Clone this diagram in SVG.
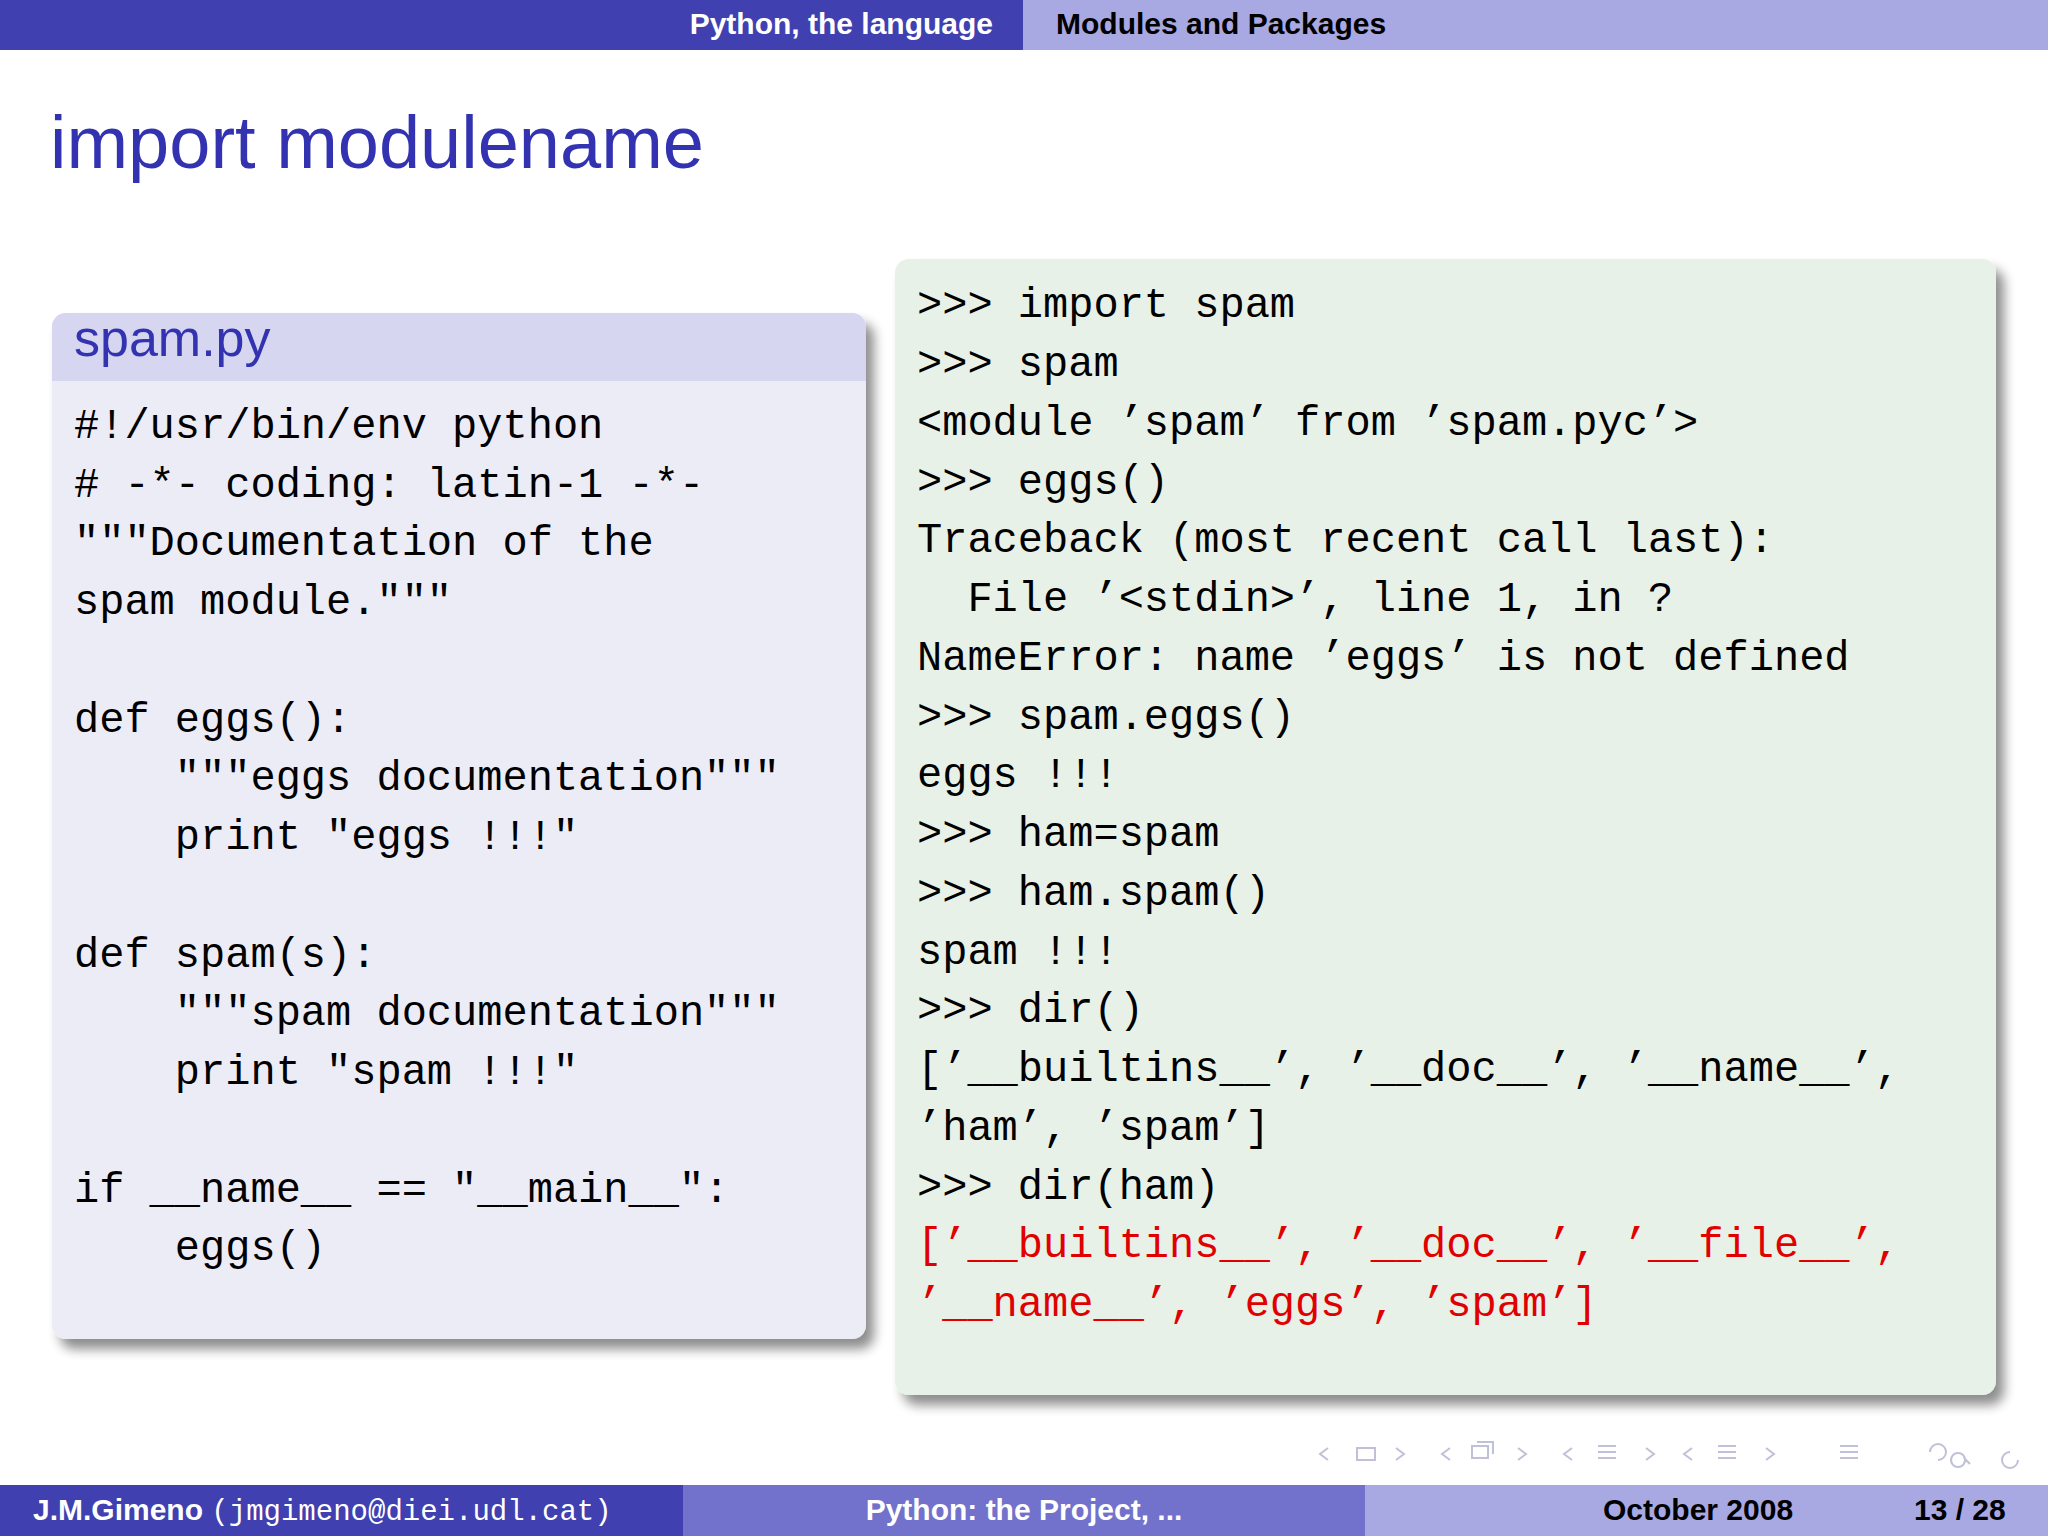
<svg xmlns="http://www.w3.org/2000/svg" width="2048" height="1536" viewBox="0 0 2048 1536">
<defs>
<filter id="sh" x="-5%" y="-5%" width="115%" height="115%"><feGaussianBlur in="SourceAlpha" stdDeviation="6"/><feOffset dx="8" dy="10"/><feComponentTransfer><feFuncA type="linear" slope="0.45"/></feComponentTransfer><feMerge><feMergeNode/><feMergeNode in="SourceGraphic"/></feMerge></filter>
</defs>
<style>
.hd{font-family:"Liberation Sans",Arial,sans-serif;font-weight:bold;font-size:30px}
.code{font-family:"Liberation Mono","DejaVu Sans Mono",monospace;font-size:42px;fill:#000;white-space:pre}
.red{fill:#e00000}
.ft{font-family:"Liberation Sans",Arial,sans-serif;font-weight:bold;font-size:30px}
.nav{fill:none;stroke:#c0c0d8;stroke-width:2}
</style>
<rect width="2048" height="1536" fill="#fff"/>
<g id="header">
<rect x="0" y="0" width="1023" height="50" fill="#4040b0"/>
<rect x="1023" y="0" width="1025" height="50" fill="#a8a8e2"/>
<text class="hd" x="993" y="34" text-anchor="end" fill="#fff">Python, the language</text>
<text class="hd" x="1056" y="34" fill="#000">Modules and Packages</text>
</g>
<text x="50" y="168" font-family="'Liberation Sans',Arial,sans-serif" font-size="74" fill="#3333b2">import modulename</text>
<g id="spam-box" filter="url(#sh)">
<rect x="52" y="313" width="814" height="1026" rx="14" fill="#ececf7"/>
<path d="M52 381 V327 a14 14 0 0 1 14 -14 H852 a14 14 0 0 1 14 14 V381 Z" fill="#d6d6f0"/>
</g>
<text x="74" y="356" font-family="'Liberation Sans',Arial,sans-serif" font-size="52" fill="#3333b2">spam.py</text>
<g id="spam-code" class="code">
<text class="code" x="74" y="438">#!/usr/bin/env python</text>
<text class="code" x="74" y="497"># -*- coding: latin-1 -*-</text>
<text class="code" x="74" y="555">"""Documentation of the</text>
<text class="code" x="74" y="614">spam module."""</text>
<text class="code" x="74" y="732">def eggs():</text>
<text class="code" x="74" y="790">    """eggs documentation"""</text>
<text class="code" x="74" y="849">    print "eggs !!!"</text>
<text class="code" x="74" y="967">def spam(s):</text>
<text class="code" x="74" y="1025">    """spam documentation"""</text>
<text class="code" x="74" y="1084">    print "spam !!!"</text>
<text class="code" x="74" y="1202">if __name__ == "__main__":</text>
<text class="code" x="74" y="1260">    eggs()</text>
</g>
<g id="session-box" filter="url(#sh)">
<rect x="895" y="259" width="1101" height="1136" rx="14" fill="#e8f1e8"/>
</g>
<g id="session-code">
<text class="code" x="917" y="317">&gt;&gt;&gt; import spam</text>
<text class="code" x="917" y="376">&gt;&gt;&gt; spam</text>
<text class="code" x="917" y="435">&lt;module ’spam’ from ’spam.pyc’&gt;</text>
<text class="code" x="917" y="494">&gt;&gt;&gt; eggs()</text>
<text class="code" x="917" y="552">Traceback (most recent call last):</text>
<text class="code" x="917" y="611">  File ’&lt;stdin&gt;’, line 1, in ?</text>
<text class="code" x="917" y="670">NameError: name ’eggs’ is not defined</text>
<text class="code" x="917" y="729">&gt;&gt;&gt; spam.eggs()</text>
<text class="code" x="917" y="787">eggs !!!</text>
<text class="code" x="917" y="846">&gt;&gt;&gt; ham=spam</text>
<text class="code" x="917" y="905">&gt;&gt;&gt; ham.spam()</text>
<text class="code" x="917" y="964">spam !!!</text>
<text class="code" x="917" y="1022">&gt;&gt;&gt; dir()</text>
<text class="code" x="917" y="1081">[’__builtins__’, ’__doc__’, ’__name__’,</text>
<text class="code" x="917" y="1140">’ham’, ’spam’]</text>
<text class="code" x="917" y="1199">&gt;&gt;&gt; dir(ham)</text>
<text class="code red" x="917" y="1257">[’__builtins__’, ’__doc__’, ’__file__’,</text>
<text class="code red" x="917" y="1316">’__name__’, ’eggs’, ’spam’]</text>
</g>
<g id="nav">
<path class="nav" d="M1328 1448 l-8 6 l8 6 M1357 1448 h18 v12 h-18 z M1396 1448 l8 6 l-8 6"/>
<path class="nav" d="M1450 1448 l-8 6 l8 6 M1472 1446 h16 v12 h-16 z M1477 1442 h16 v12 M1518 1448 l8 6 l-8 6"/>
<path class="nav" d="M1572 1448 l-8 6 l8 6 M1598 1446 h18 M1598 1452 h18 M1598 1458 h18 M1646 1448 l8 6 l-8 6"/>
<path class="nav" d="M1692 1448 l-8 6 l8 6 M1718 1446 h18 M1718 1452 h18 M1718 1458 h18 M1766 1448 l8 6 l-8 6"/>
<path class="nav" d="M1840 1446 h18 M1840 1452 h18 M1840 1458 h18"/>
<path class="nav" d="M1930 1452 a8 8 0 1 1 8 8 M1958 1453 a7 7 0 1 0 0.1 0 M1964 1458 l6 6 M2010 1452 a8 8 0 1 0 8 8"/>
</g>
<g id="footer">
<rect x="0" y="1485" width="683" height="51" fill="#4040b0"/>
<rect x="683" y="1485" width="682" height="51" fill="#7272cc"/>
<rect x="1365" y="1485" width="683" height="51" fill="#a8a8e2"/>
<text class="ft" x="33" y="1520" fill="#fff">J.M.Gimeno <tspan font-family="'Liberation Mono',monospace" font-weight="normal" font-size="29">(jmgimeno@diei.udl.cat)</tspan></text>
<text class="ft" x="1024" y="1520" text-anchor="middle" fill="#fff">Python: the Project, ...</text>
<text class="ft" x="1603" y="1520" fill="#000">October 2008</text>
<text class="ft" x="1914" y="1520" fill="#000">13 / 28</text>
</g>
</svg>
